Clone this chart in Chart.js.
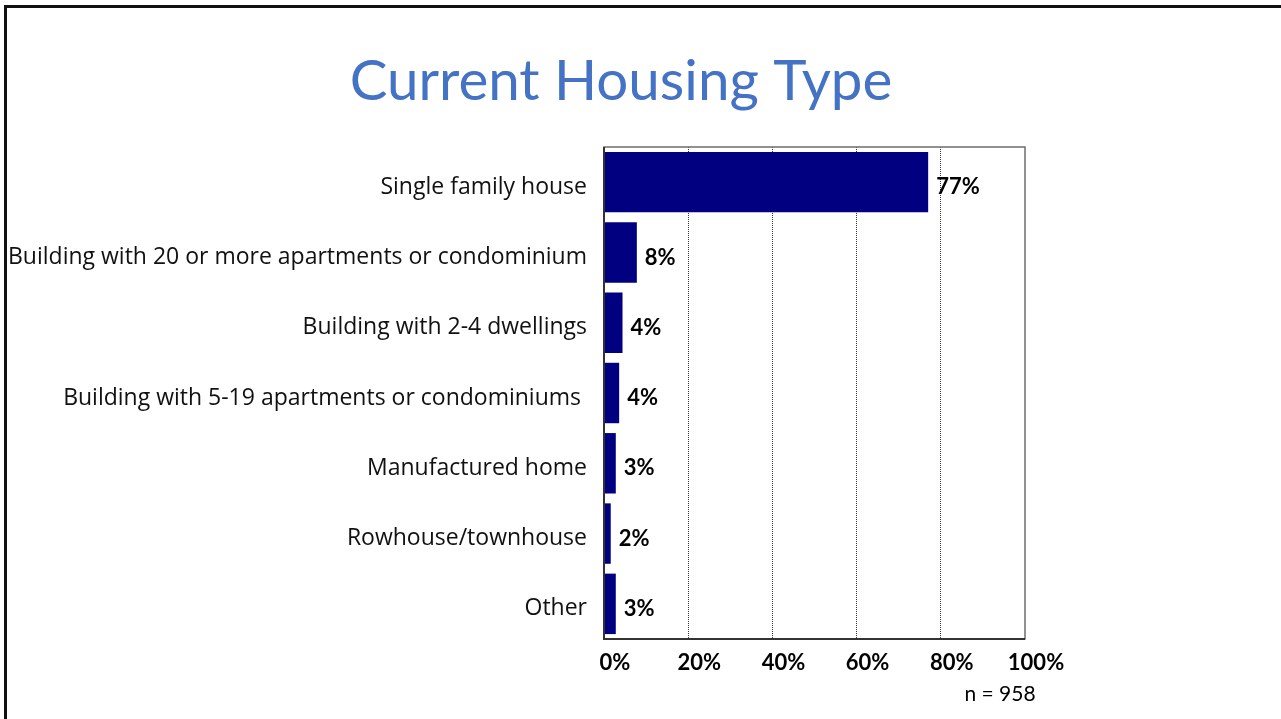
<!DOCTYPE html>
<html lang="en">
<head>
    <meta charset="UTF-8">
    <title>Current Housing Type</title>
    <script src="https://cdn.jsdelivr.net/npm/chart.js"></script>
    <style>
        html, body {
            margin: 0;
            padding: 0;
            background: #ffffff;
        }
        .wrap {
            width: 1281px;
            height: 719px;
            position: relative;
        }
    </style>
</head>
<body>
    <div class="wrap">
        <canvas id="housingChart" width="1281" height="719"></canvas>
    </div>
    <script>
        // Datos del gráfico
        const categorias = [
            'Single family house',
            'Building with 20 or more apartments or condominium',
            'Building with 2-4 dwellings',
            'Building with 5-19 apartments or condominiums ',
            'Manufactured home',
            'Rowhouse/townhouse',
            'Other'
        ];
        const porcentajes = [77, 7.8, 4.4, 3.6, 2.8, 1.6, 2.8];
        const ticksX = [0, 20, 40, 60, 80, 100];
        const titulo = 'Current Housing Type';
        const nota = 'n = 958';

        const fuente = "Lato, 'Open Sans', sans-serif";
        const fuenteEtiquetas = "'Open Sans', Lato, sans-serif";

        // Marco de la diapositiva, título, nota y etiquetas de datos
        const decoracion = {
            id: 'decoracion',
            beforeDraw(chart) {
                const ctx = chart.ctx;
                ctx.save();
                ctx.fillStyle = '#ffffff';
                ctx.fillRect(0, 0, chart.width, chart.height);
                ctx.strokeStyle = '#111111';
                ctx.lineWidth = 3;
                ctx.beginPath();
                ctx.moveTo(5.5, chart.height);
                ctx.lineTo(5.5, 6.5);
                ctx.lineTo(chart.width, 6.5);
                ctx.stroke();
                ctx.restore();
            },
            afterDraw(chart) {
                const ctx = chart.ctx;
                const area = chart.chartArea;
                ctx.save();
                // borde del área de trazado
                ctx.strokeStyle = '#6e6e6e';
                ctx.lineWidth = 1.5;
                ctx.strokeRect(area.left, area.top, area.right - area.left, area.bottom - area.top);
                ctx.strokeStyle = '#333333';
                ctx.lineWidth = 2;
                ctx.beginPath();
                ctx.moveTo(area.left, area.top);
                ctx.lineTo(area.left, area.bottom);
                ctx.lineTo(area.right, area.bottom);
                ctx.stroke();

                // título
                ctx.fillStyle = '#4472C4';
                ctx.font = '400 56.5px ' + fuente;
                ctx.textAlign = 'center';
                ctx.textBaseline = 'alphabetic';
                ctx.fillText(titulo, 621, 100);

                // etiquetas de valores
                ctx.fillStyle = '#000000';
                ctx.font = 'bold 22px ' + fuente;
                ctx.textAlign = 'left';
                ctx.textBaseline = 'middle';
                const meta = chart.getDatasetMeta(0);
                meta.data.forEach((bar, i) => {
                    ctx.fillText(Math.round(porcentajes[i]) + '%', bar.x + 8, bar.y + 5);
                });

                // nota
                ctx.font = '21px ' + fuente;
                ctx.textAlign = 'center';
                ctx.fillText(nota, 1000, 694);
                ctx.restore();
            }
        };

        const ctx = document.getElementById('housingChart').getContext('2d');
        new Chart(ctx, {
            type: 'bar',
            data: {
                labels: categorias,
                datasets: [{
                    data: porcentajes,
                    backgroundColor: '#000080',
                    borderWidth: 0,
                    barPercentage: 0.86,
                    categoryPercentage: 1
                }]
            },
            options: {
                indexAxis: 'y',
                responsive: false,
                animation: false,
                layout: {
                    padding: { top: 147, right: 256, bottom: 40, left: 0 }
                },
                plugins: {
                    legend: { display: false },
                    tooltip: { enabled: false }
                },
                scales: {
                    x: {
                        min: 0,
                        max: 100,
                        afterBuildTicks(scale) {
                            scale.ticks = ticksX.map(v => ({ value: v }));
                        },
                        afterFit(scale) {
                            scale.height = 40;
                        },
                        border: { display: false, dash: [1, 1] },
                        grid: {
                            drawTicks: false,
                            color: ctx => (ctx.tick && ctx.tick.value > 0 && ctx.tick.value < 100) ? '#333333' : 'rgba(0,0,0,0)',
                            lineWidth: 1
                        },
                        ticks: {
                            padding: 11,
                            labelOffset: 11,
                            color: '#000000',
                            font: { family: fuente, size: 22, weight: 'bold' },
                            callback: v => v + '%'
                        }
                    },
                    y: {
                        afterFit(scale) {
                            scale.width = 604;
                        },
                        border: { display: false },
                        grid: { display: false, drawTicks: false },
                        ticks: {
                            padding: 17,
                            labelOffset: 5,
                            color: '#111111',
                            font: { family: fuenteEtiquetas, size: 23 }
                        }
                    }
                }
            },
            plugins: [decoracion]
        });
    </script>
</body>
</html>
